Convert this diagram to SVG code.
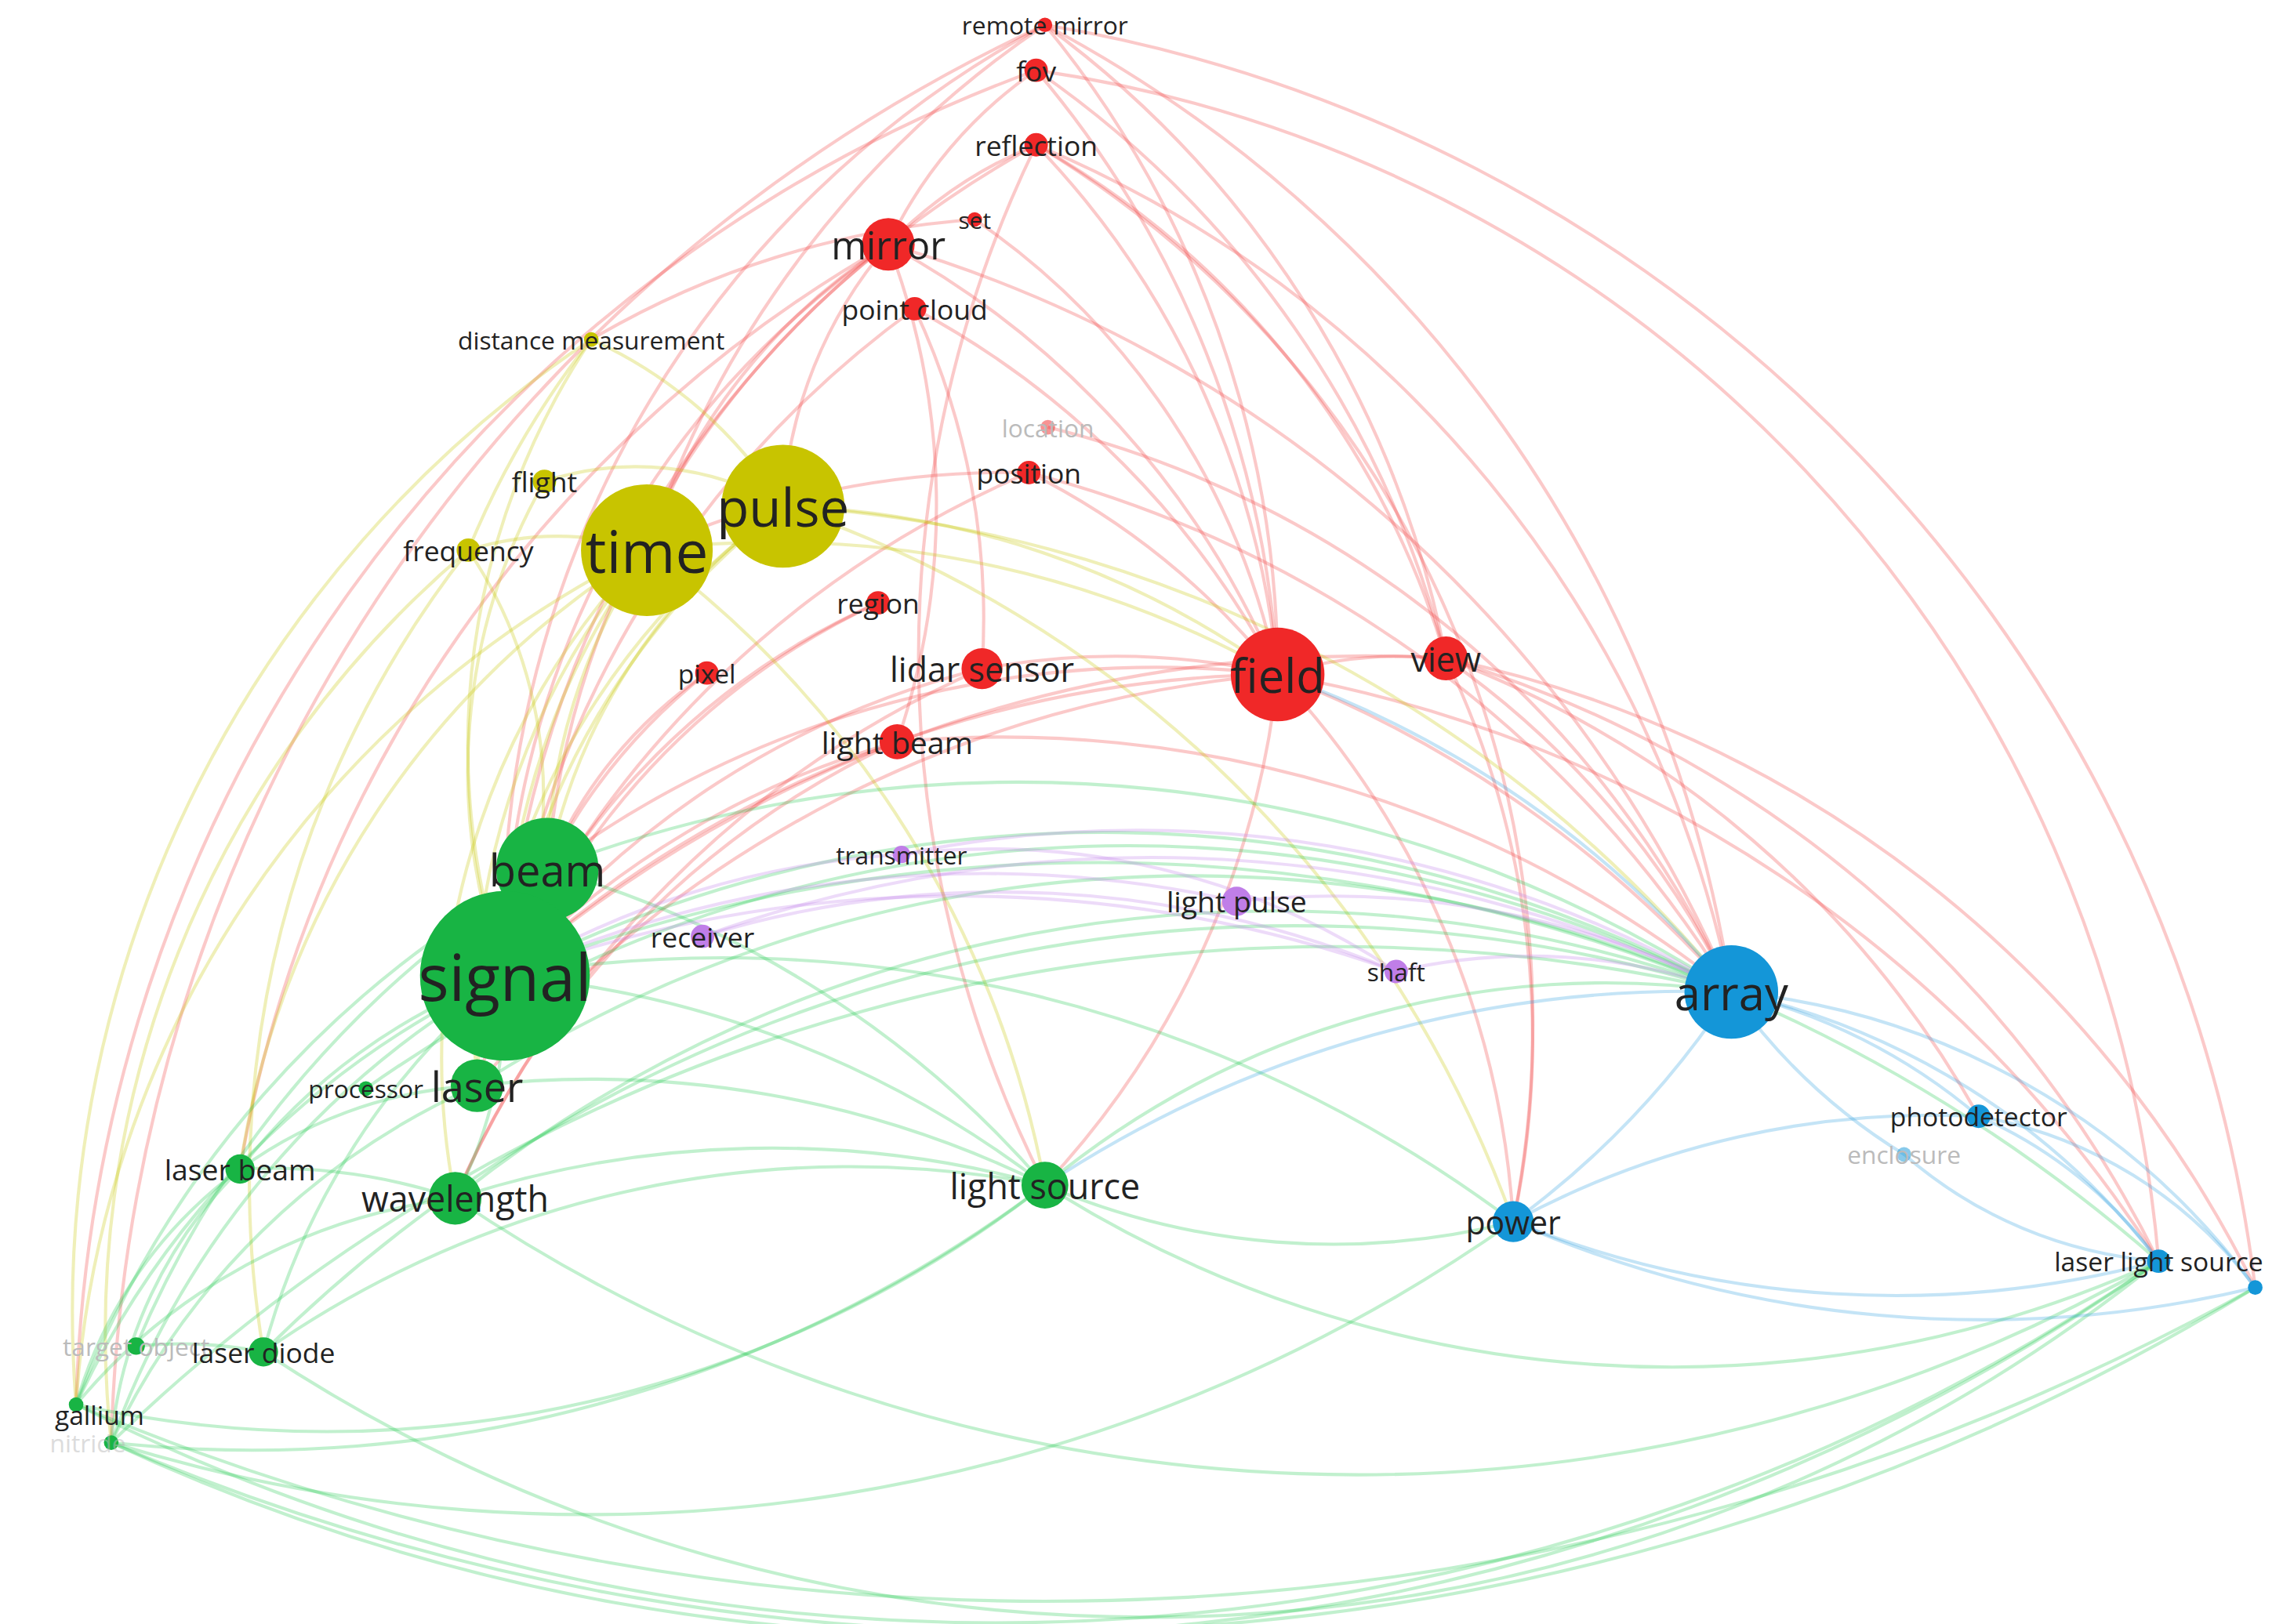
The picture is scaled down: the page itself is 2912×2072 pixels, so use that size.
<svg xmlns="http://www.w3.org/2000/svg" width="2912" height="2072" viewBox="0 0 2912 2072">
<style>
path{fill:none;stroke-width:2.2;stroke-opacity:.28}
.r{stroke:#f03c3c}.y{stroke:#c4c400}.g{stroke:#22c84e}.b{stroke:#2c9ee0}.p{stroke:#c07ee8}
.nr{fill:#f02828}.ny{fill:#c8c400}.ng{fill:#18b444}.nb{fill:#1496d8}.np{fill:#c07ee8}
text{font-family:"Open Sans","DejaVu Sans",sans-serif;fill:#222;text-anchor:middle;dominant-baseline:central}
.f{fill:#bbb}
</style>
<rect width="2912" height="2072" fill="#fff"/>
<g transform="scale(1.8667)">
<g id="connectors">
<path class="r" d="M714 17 A700 700 0 0 1 873 461"/>
<path class="r" d="M714 17 A700 700 0 0 1 988 450"/>
<path class="r" d="M345 667 A700 700 0 0 1 714 17"/>
<path class="r" d="M442 376 A700 700 0 0 1 714 17"/>
<path class="r" d="M714 17 A900 900 0 0 1 1183 678"/>
<path class="r" d="M714 17 A1000 1000 0 0 1 1541 880"/>
<path class="r" d="M76 986 A1100 1100 0 0 1 714 17"/>
<path class="r" d="M708 48 A700 700 0 0 1 873 461"/>
<path class="r" d="M708 48 A700 700 0 0 1 988 450"/>
<path class="r" d="M607 167 A300 300 0 0 1 708 48"/>
<path class="r" d="M708 48 A900 900 0 0 1 1475 862"/>
<path class="r" d="M52 960 A1000 1000 0 0 1 708 48"/>
<path class="r" d="M708 99 A600 600 0 0 1 873 461"/>
<path class="r" d="M607 167 A300 300 0 0 1 708 99"/>
<path class="r" d="M345 667 A700 700 0 0 1 708 99"/>
<path class="r" d="M708 99 A600 600 0 0 1 988 450"/>
<path class="r" d="M708 99 A800 800 0 0 1 1183 678"/>
<path class="r" d="M708 99 A700 700 0 0 1 1034 835"/>
<path class="r" d="M708 99 A800 800 0 0 0 714 810"/>
<path class="r" d="M607 167 A600 600 0 0 1 873 461"/>
<path class="r" d="M442 376 A400 400 0 0 1 607 167"/>
<path class="r" d="M345 667 A600 600 0 0 1 607 167"/>
<path class="r" d="M374 594 A600 600 0 0 1 607 167"/>
<path class="r" d="M607 167 A500 500 0 0 1 613 507"/>
<path class="r" d="M535 346 A300 300 0 0 1 607 167"/>
<path class="r" d="M607 167 A900 900 0 0 1 1183 678"/>
<path class="r" d="M164 799 A900 900 0 0 1 607 167"/>
<path class="r" d="M625 211 A600 600 0 0 1 873 461"/>
<path class="r" d="M625 211 A500 500 0 0 1 671 457"/>
<path class="r" d="M345 667 A700 700 0 0 1 625 211"/>
<path class="r" d="M666 150 A500 500 0 0 1 873 461"/>
<path class="r" d="M404 232 A600 600 0 0 1 666 150"/>
<path class="r" d="M703 323 A500 500 0 0 1 873 461"/>
<path class="r" d="M345 667 A700 700 0 0 1 703 323"/>
<path class="r" d="M442 376 A600 600 0 0 1 703 323"/>
<path class="r" d="M703 323 A800 800 0 0 1 1183 678"/>
<path class="r" d="M716 292 A700 700 0 0 1 1183 678"/>
<path class="r" d="M345 667 A800 800 0 0 1 873 461"/>
<path class="r" d="M873 461 A800 800 0 0 1 1183 678"/>
<path class="r" d="M873 461 A300 300 0 0 1 988 450"/>
<path class="r" d="M374 594 A700 700 0 0 1 873 461"/>
<path class="r" d="M873 461 A600 600 0 0 1 714 810"/>
<path class="r" d="M873 461 A600 600 0 0 1 1034 835"/>
<path class="r" d="M873 461 A900 900 0 0 1 1475 862"/>
<path class="r" d="M326 742 A800 800 0 0 1 873 461"/>
<path class="r" d="M988 450 A600 600 0 0 1 1183 678"/>
<path class="r" d="M345 667 A900 900 0 0 1 988 450"/>
<path class="r" d="M988 450 A700 700 0 0 1 1352 763"/>
<path class="r" d="M988 450 A800 800 0 0 1 1475 862"/>
<path class="r" d="M988 450 A800 800 0 0 1 1541 880"/>
<path class="r" d="M988 450 A600 600 0 0 1 1034 835"/>
<path class="r" d="M345 667 A600 600 0 0 1 671 457"/>
<path class="r" d="M671 457 A500 500 0 0 1 873 461"/>
<path class="r" d="M345 667 A600 600 0 0 1 613 507"/>
<path class="r" d="M613 507 A800 800 0 0 1 1183 678"/>
<path class="r" d="M345 667 A500 500 0 0 1 600 412"/>
<path class="r" d="M345 667 A400 400 0 0 1 483 460"/>
<path class="r" d="M374 594 A300 300 0 0 1 483 460"/>
<path class="r" d="M326 742 A500 500 0 0 1 600 412"/>
<path class="r" d="M311 819 A600 600 0 0 1 613 507"/>
<path class="r" d="M311 819 A700 700 0 0 1 671 457"/>
<path class="y" d="M345 667 A500 500 0 0 1 442 376"/>
<path class="y" d="M374 594 A400 400 0 0 1 442 376"/>
<path class="y" d="M326 742 A500 500 0 0 1 442 376"/>
<path class="y" d="M311 819 A500 500 0 0 1 442 376"/>
<path class="y" d="M52 960 A700 700 0 0 1 442 376"/>
<path class="y" d="M164 799 A600 600 0 0 1 442 376"/>
<path class="y" d="M442 376 A700 700 0 0 1 873 461"/>
<path class="y" d="M345 667 A500 500 0 0 1 535 346"/>
<path class="y" d="M374 594 A400 400 0 0 1 535 346"/>
<path class="y" d="M535 346 A600 600 0 0 1 873 461"/>
<path class="y" d="M326 742 A500 500 0 0 1 535 346"/>
<path class="y" d="M535 346 A900 900 0 0 1 1183 678"/>
<path class="y" d="M345 667 A500 500 0 0 1 404 232"/>
<path class="y" d="M52 960 A800 800 0 0 1 404 232"/>
<path class="y" d="M345 667 A400 400 0 0 1 372 329"/>
<path class="y" d="M345 667 A300 300 0 0 0 320 376"/>
<path class="y" d="M180 924 A700 700 0 0 1 320 376"/>
<path class="y" d="M76 986 A700 700 0 0 1 320 376"/>
<path class="y" d="M442 376 A700 700 0 0 1 714 810"/>
<path class="y" d="M535 346 A800 800 0 0 1 1034 835"/>
<path class="y" d="M320 376 A200 200 0 0 1 442 376"/>
<path class="y" d="M372 329 A200 200 0 0 1 535 346"/>
<path class="y" d="M404 232 A300 300 0 0 1 535 346"/>
<path class="y" d="M320 376 A600 600 0 0 1 404 232"/>
<path class="g" d="M345 667 A900 900 0 0 1 1183 678"/>
<path class="g" d="M345 667 A700 700 0 0 1 714 810"/>
<path class="g" d="M345 667 A900 900 0 0 1 1034 835"/>
<path class="g" d="M345 667 A1100 1100 0 0 1 1475 862"/>
<path class="g" d="M345 667 A600 600 0 0 0 52 960"/>
<path class="g" d="M345 667 A600 600 0 0 0 76 986"/>
<path class="g" d="M345 667 A500 500 0 0 0 180 924"/>
<path class="g" d="M345 667 A300 300 0 0 1 311 819"/>
<path class="g" d="M345 667 A400 400 0 0 0 164 799"/>
<path class="g" d="M374 594 A700 700 0 0 1 714 810"/>
<path class="g" d="M374 594 A900 900 0 0 1 1183 678"/>
<path class="g" d="M374 594 A700 700 0 0 0 52 960"/>
<path class="g" d="M326 742 A700 700 0 0 1 714 810"/>
<path class="g" d="M326 742 A900 900 0 0 1 1183 678"/>
<path class="g" d="M326 742 A500 500 0 0 0 76 986"/>
<path class="g" d="M311 819 A700 700 0 0 1 714 810"/>
<path class="g" d="M311 819 A900 900 0 0 1 1183 678"/>
<path class="g" d="M311 819 A1100 1100 0 0 0 1475 862"/>
<path class="g" d="M311 819 A400 400 0 0 0 52 960"/>
<path class="g" d="M164 799 A300 300 0 0 0 76 986"/>
<path class="g" d="M164 799 A400 400 0 0 1 311 819"/>
<path class="g" d="M180 924 A700 700 0 0 1 714 810"/>
<path class="g" d="M180 924 A1000 1000 0 0 1 1183 678"/>
<path class="g" d="M180 924 A1100 1100 0 0 0 1475 862"/>
<path class="g" d="M52 960 A1400 1400 0 0 0 1475 862"/>
<path class="g" d="M76 986 A1400 1400 0 0 0 1475 862"/>
<path class="g" d="M76 986 A1100 1100 0 0 0 1034 835"/>
<path class="g" d="M76 986 A1200 1200 0 0 1 1183 678"/>
<path class="g" d="M76 986 A1600 1600 0 0 0 1541 880"/>
<path class="g" d="M52 960 A1700 1700 0 0 0 1541 880"/>
<path class="g" d="M714 810 A600 600 0 0 1 1183 678"/>
<path class="g" d="M714 810 A500 500 0 0 0 1034 835"/>
<path class="g" d="M714 810 A800 800 0 0 0 1475 862"/>
<path class="g" d="M76 986 A900 900 0 0 0 714 810"/>
<path class="g" d="M52 960 A800 800 0 0 0 714 810"/>
<path class="g" d="M93 920 A700 700 0 0 1 374 594"/>
<path class="g" d="M93 920 A300 300 0 0 1 180 924"/>
<path class="g" d="M52 960 A300 300 0 0 1 326 742"/>
<path class="g" d="M250 744 A900 900 0 0 1 1183 678"/>
<path class="b" d="M1034 835 A600 600 0 0 0 1183 678"/>
<path class="b" d="M1183 678 A400 400 0 0 1 1352 763"/>
<path class="b" d="M1183 678 A500 500 0 0 1 1475 862"/>
<path class="b" d="M1183 678 A400 400 0 0 0 1301 789"/>
<path class="b" d="M1183 678 A500 500 0 0 1 1541 880"/>
<path class="b" d="M1034 835 A700 700 0 0 0 1475 862"/>
<path class="b" d="M1034 835 A600 600 0 0 1 1352 763"/>
<path class="b" d="M1352 763 A300 300 0 0 1 1475 862"/>
<path class="b" d="M1301 789 A300 300 0 0 0 1475 862"/>
<path class="b" d="M1034 835 A800 800 0 0 0 1541 880"/>
<path class="b" d="M1352 763 A300 300 0 0 1 1541 880"/>
<path class="b" d="M1183 678 A800 800 0 0 0 714 810"/>
<path class="b" d="M1183 678 A700 700 0 0 0 873 461"/>
<path class="p" d="M480 640 A700 700 0 0 1 954 664"/>
<path class="p" d="M480 640 A900 900 0 0 1 1183 678"/>
<path class="p" d="M616 584 A800 800 0 0 1 1183 678"/>
<path class="p" d="M845 616 A600 600 0 0 1 1183 678"/>
<path class="p" d="M345 667 A800 800 0 0 1 845 616"/>
<path class="p" d="M345 667 A900 900 0 0 1 954 664"/>
<path class="p" d="M954 664 A400 400 0 0 1 1183 678"/>
<path class="p" d="M345 667 A600 600 0 0 1 616 584"/>
<path class="p" d="M616 584 A500 500 0 0 1 954 664"/>
</g>
<g id="nodes">
<g id="n-remote-mirror"><circle class="nr" cx="714" cy="17" r="5"/><text x="714" y="17" font-size="17">remote mirror</text></g>
<g id="n-fov"><circle class="nr" cx="708" cy="48" r="8"/><text x="708" y="48" font-size="19">fov</text></g>
<g id="n-reflection"><circle class="nr" cx="708" cy="99" r="8"/><text x="708" y="99" font-size="19">reflection</text></g>
<g id="n-set"><circle class="nr" cx="666" cy="150" r="5"/><text x="666" y="150" font-size="16">set</text></g>
<g id="n-mirror"><circle class="nr" cx="607" cy="167" r="18"/><text x="607" y="167" font-size="26">mirror</text></g>
<g id="n-point-cloud"><circle class="nr" cx="625" cy="211" r="8"/><text x="625" y="211" font-size="19">point cloud</text></g>
<g id="n-distance-measurement"><circle class="ny" cx="404" cy="232" r="5"/><text x="404" y="232" font-size="17">distance measurement</text></g>
<g id="n-location"><circle class="nr" cx="716" cy="292" r="5" opacity=".5"/><text class="f" x="716" y="292" font-size="17">location</text></g>
<g id="n-position"><circle class="nr" cx="703" cy="323" r="8"/><text x="703" y="323" font-size="19">position</text></g>
<g id="n-flight"><circle class="ny" cx="372" cy="329" r="8"/><text x="372" y="329" font-size="19">flight</text></g>
<g id="n-frequency"><circle class="ny" cx="320" cy="376" r="8"/><text x="320" y="376" font-size="19">frequency</text></g>
<g id="n-time"><circle class="ny" cx="442" cy="376" r="45"/><text x="442" y="376" font-size="40">time</text></g>
<g id="n-pulse"><circle class="ny" cx="535" cy="346" r="42"/><text x="535" y="346" font-size="36">pulse</text></g>
<g id="n-region"><circle class="nr" cx="600" cy="412" r="8"/><text x="600" y="412" font-size="19">region</text></g>
<g id="n-pixel"><circle class="nr" cx="483" cy="460" r="8"/><text x="483" y="460" font-size="18">pixel</text></g>
<g id="n-lidar-sensor"><circle class="nr" cx="671" cy="457" r="14"/><text x="671" y="457" font-size="23">lidar sensor</text></g>
<g id="n-field"><circle class="nr" cx="873" cy="461" r="32"/><text x="873" y="461" font-size="32">field</text></g>
<g id="n-view"><circle class="nr" cx="988" cy="450" r="15"/><text x="988" y="450" font-size="23">view</text></g>
<g id="n-light-beam"><circle class="nr" cx="613" cy="507" r="12"/><text x="613" y="507" font-size="21">light beam</text></g>
<g id="n-transmitter"><circle class="np" cx="616" cy="584" r="6"/><text x="616" y="584" font-size="17">transmitter</text></g>
<g id="n-beam"><circle class="ng" cx="374" cy="594" r="35"/><text x="374" y="594" font-size="30">beam</text></g>
<g id="n-light-pulse"><circle class="np" cx="845" cy="616" r="10"/><text x="845" y="616" font-size="20">light pulse</text></g>
<g id="n-receiver"><circle class="np" cx="480" cy="640" r="8"/><text x="480" y="640" font-size="19">receiver</text></g>
<g id="n-shaft"><circle class="np" cx="954" cy="664" r="8"/><text x="954" y="664" font-size="17">shaft</text></g>
<g id="n-signal"><circle class="ng" cx="345" cy="667" r="58"/><text x="345" y="667" font-size="44">signal</text></g>
<g id="n-array"><circle class="nb" cx="1183" cy="678" r="32"/><text x="1183" y="678" font-size="32">array</text></g>
<g id="n-processor"><circle class="ng" cx="250" cy="744" r="5"/><text x="250" y="744" font-size="17">processor</text></g>
<g id="n-laser"><circle class="ng" cx="326" cy="742" r="18"/><text x="326" y="742" font-size="28">laser</text></g>
<g id="n-photodetector"><circle class="nb" cx="1352" cy="763" r="8"/><text x="1352" y="763" font-size="18">photodetector</text></g>
<g id="n-enclosure"><circle class="nb" cx="1301" cy="789" r="5" opacity=".5"/><text class="f" x="1301" y="789" font-size="17">enclosure</text></g>
<g id="n-laser-beam"><circle class="ng" cx="164" cy="799" r="10"/><text x="164" y="799" font-size="20">laser beam</text></g>
<g id="n-wavelength"><circle class="ng" cx="311" cy="819" r="18"/><text x="311" y="819" font-size="24">wavelength</text></g>
<g id="n-light-source"><circle class="ng" cx="714" cy="810" r="16"/><text x="714" y="810" font-size="24">light source</text></g>
<g id="n-power"><circle class="nb" cx="1034" cy="835" r="14"/><text x="1034" y="835" font-size="22">power</text></g>
<g id="n-laser-light-source"><circle class="nb" cx="1475" cy="862" r="8"/><text x="1475" y="862" font-size="18">laser light source</text></g>
<g id="n-extra"><circle class="nb" cx="1541" cy="880" r="5"/></g>
<g id="n-target-object"><circle class="ng" cx="93" cy="920" r="6"/><text class="f" x="93" y="920" font-size="17">target object</text></g>
<g id="n-laser-diode"><circle class="ng" cx="180" cy="924" r="10"/><text x="180" y="924" font-size="19">laser diode</text></g>
<g id="n-gallium"><circle class="ng" cx="52" cy="960" r="5"/><text x="68" y="967" font-size="18">gallium</text></g>
<g id="n-nitride"><circle class="ng" cx="76" cy="986" r="5"/><text class="f" x="60" y="986" font-size="17" opacity=".5">nitride</text></g>
</g>
</g>
</svg>
